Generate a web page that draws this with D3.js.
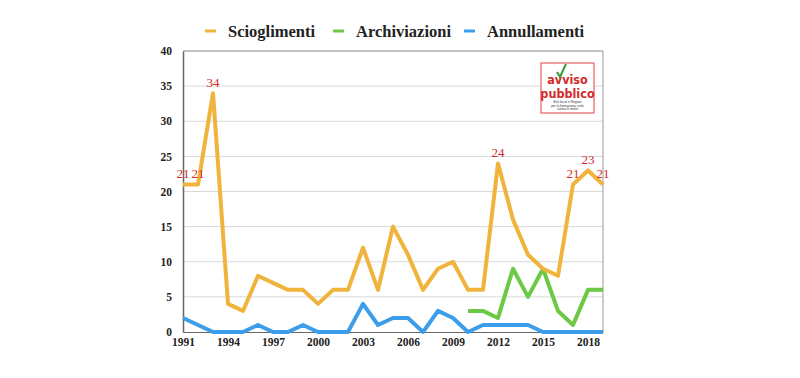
<!DOCTYPE html>
<html><head><meta charset="utf-8">
<script src="https://cdn.jsdelivr.net/npm/d3@7"></script>
<style>body{margin:0;background:#fff;} svg{display:block;}</style>
</head><body>
<svg id="c" width="800" height="378"></svg>
<script>
const years = d3.range(1991, 2020);
const scioglimenti = [21,21,34,4,3,8,7,6,6,4,6,6,12,6,15,11,6,9,10,6,6,24,16,11,9,8,21,23,21];
const archiviazioniYears = d3.range(2010, 2020);
const archiviazioni = [3,3,2,9,5,9,3,1,6,6];
const annullamenti = [2,1,0,0,0,1,0,0,1,0,0,0,4,1,2,2,0,3,2,0,1,1,1,1,0,0,0,0,0];
const yTicks = [0,5,10,15,20,25,30,35,40];
const xTicks = [1991,1994,1997,2000,2003,2006,2009,2012,2015,2018];
const labeledYears = [1991,1992,1993,2012,2017,2018,2019];
const seriesNames = ["Scioglimenti","Archiviazioni","Annullamenti"];
const colors = ["#F0B43C","#6DC846","#3C9EEB"];

const svg = d3.select("#c");
const m = {l:183, r:603, t:51, b:332};
const x = d3.scaleLinear().domain([1991,2019]).range([m.l, m.r]);
const y = d3.scaleLinear().domain([0,40]).range([m.b, m.t]);
const serif = "'Liberation Serif','DejaVu Serif',serif";

// gridlines
svg.append("g").selectAll("line").data(yTicks.filter(d=>d>0)).join("line")
  .attr("x1", m.l).attr("x2", m.r).attr("y1", d=>y(d)).attr("y2", d=>y(d))
  .attr("stroke", "#d9d9d9").attr("stroke-width", 1);
// border
svg.append("line").attr("x1", m.l).attr("x2", m.r).attr("y1", m.t).attr("y2", m.t).attr("stroke","#999");
svg.append("line").attr("x1", m.r).attr("x2", m.r).attr("y1", m.t).attr("y2", m.b).attr("stroke","#999");

// axes
const yAxis = svg.append("g").attr("transform", `translate(${m.l},0)`)
  .call(d3.axisLeft(y).tickValues(yTicks).tickSize(0).tickPadding(11));
yAxis.select(".domain").attr("stroke","#666").attr("stroke-width",1.5);
yAxis.selectAll("text").attr("font-family", serif).attr("font-weight","bold").attr("font-size", 11.5).attr("fill","#222");

const xAxis = svg.append("g").attr("transform", `translate(0,${m.b})`)
  .call(d3.axisBottom(x).tickValues(xTicks).tickFormat(d3.format("d")).tickSize(0).tickPadding(6));
xAxis.select(".domain").attr("stroke","#666").attr("stroke-width",1.2);
xAxis.selectAll("text").attr("font-family", serif).attr("font-weight","bold").attr("font-size", 11.5).attr("fill","#222");

// logo
const logo = svg.append("g");
logo.append("rect").attr("x",541).attr("y",63).attr("width",53).attr("height",50).attr("fill","#fff").attr("stroke","#e04040").attr("stroke-width",1);
logo.append("text").attr("x",567.5).attr("y",84).attr("text-anchor","middle").attr("font-family","'DejaVu Sans Condensed','DejaVu Sans',sans-serif").attr("font-weight","bold").attr("font-size",12.5).attr("fill","#d42a2a").text("avviso");
logo.append("text").attr("x",567.5).attr("y",98).attr("text-anchor","middle").attr("font-family","'DejaVu Sans Condensed','DejaVu Sans',sans-serif").attr("font-weight","bold").attr("font-size",12.5).attr("fill","#d42a2a").text("pubblico");
logo.append("path").attr("d","M557,72 L560,77 L566,64").attr("fill","none").attr("stroke","#3a9a3a").attr("stroke-width",2);
["Enti locali e Regioni","per la formazione civile","contro le mafie"].forEach((t,i)=>{
  logo.append("text").attr("x",567.5).attr("y",103+i*3.5).attr("text-anchor","middle").attr("font-family","sans-serif").attr("font-size",3.2).attr("fill","#333").text(t);
});

// lines
const line = d3.line().x(d=>x(d[0])).y(d=>y(d[1]));
const sData = years.map((yr,i)=>[yr, scioglimenti[i]]);
const aData = archiviazioniYears.map((yr,i)=>[yr, archiviazioni[i]]);
const nData = years.map((yr,i)=>[yr, annullamenti[i]]);
[[nData,2],[aData,1],[sData,0]].forEach(([d,c])=>{
  svg.append("path").datum(d).attr("d", line).attr("fill","none")
    .attr("stroke", colors[c]).attr("stroke-width", 4).attr("stroke-linejoin","round");
});

// labels
svg.append("g").selectAll("text").data(sData.filter(d=>labeledYears.includes(d[0]))).join("text")
  .attr("x", d=>x(d[0])).attr("y", d=>y(d[1])-6).attr("text-anchor","middle")
  .attr("font-family", serif).attr("font-size", 13).attr("fill","#d42a2a").text(d=>d[1]);

// legend
const legX = [205, 333, 464];
const lg = svg.append("g");
seriesNames.forEach((n,i)=>{
  lg.append("line").attr("x1", legX[i]).attr("x2", legX[i]+11).attr("y1",31).attr("y2",31).attr("stroke",colors[i]).attr("stroke-width",3);
  lg.append("text").attr("x", legX[i]+23).attr("y", 37).attr("font-family", serif).attr("font-weight","bold").attr("font-size",16.5).attr("fill","#222").text(n);
});
</script>
</body></html>
